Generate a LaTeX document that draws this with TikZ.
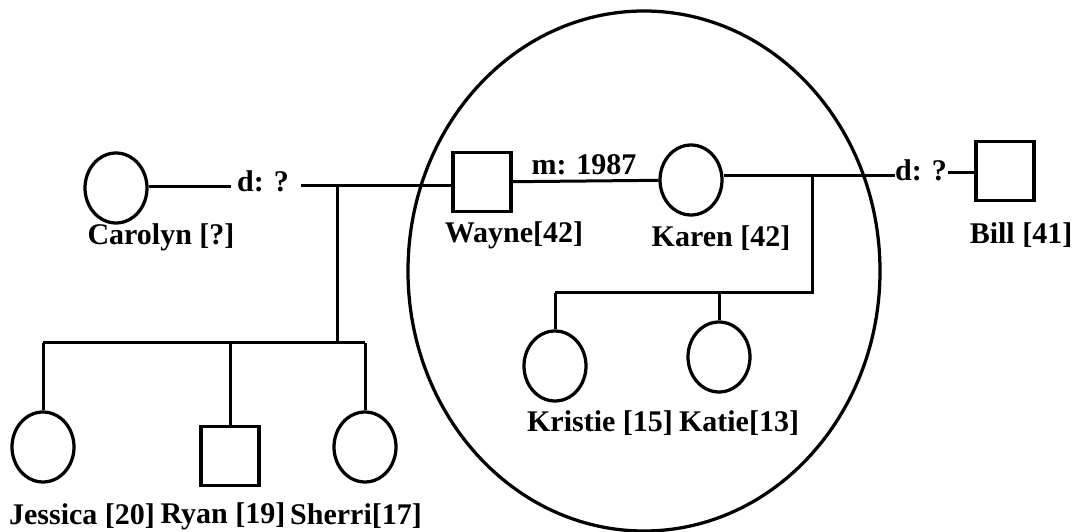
\documentclass[tikz,border=0pt]{standalone}
\usepackage{fontspec}
\setmainfont{Liberation Serif}
\usetikzlibrary{shapes.geometric}

\begin{document}
\begin{tikzpicture}[x=0.4pt, y=-0.4pt, line width=1.2pt,
        femmina/.style={ellipse, draw, line width=1.3pt, inner sep=0pt, minimum width=24.8pt, minimum height=28pt},
        maschio/.style={rectangle, draw, line width=1.3pt, inner sep=0pt, minimum width=23.2pt, minimum height=23.6pt},
        nome/.style={font=\fontsize{12}{14}\selectfont\bfseries, inner sep=0pt}]
        \useasboundingbox (0,0) rectangle (1081,532);

        % Nucleo familiare evidenziato
        \draw[line width=1.3pt] (644,271) ellipse (94.4pt and 104pt);

        % Genitori
        \node[femmina] (Carolyn) at (116,188) {};
        \node[maschio] (Wayne) at (482,182) {};
        \node[femmina] (Karen) at (691,180) {};
        \node[maschio] (Bill) at (1005,171) {};

        % Figli
        \node[femmina] (Jessica) at (43,447) {};
        \node[maschio] (Ryan) at (230,456) {};
        \node[femmina] (Sherri) at (365,447) {};
        \node[femmina] (Kristie) at (555,366) {};
        \node[femmina] (Katie) at (719,357) {};

        % Nomi ed eta'
        \node[nome] (nCarolyn) at (161,237) {Carolyn [?]};
        \node[nome] (nWayne) at (514,235) {Wayne[42]};
        \node[nome] (nKaren) at (721,238) {Karen [42]};
        \node[nome] (nBill) at (1021,235) {Bill [41]};
        \node[nome] (nJessica) at (82,516) {Jessica [20]};
        \node[nome] (nRyan) at (223,516) {Ryan [19]};
        \node[nome] (nSherri) at (356,516) {Sherri[17]};
        \node[nome] (nKristie) at (600,423) {Kristie [15]};
        \node[nome] (nKatie) at (739,423) {Katie[13]};

        % Unioni
        \node[nome] (dSx) at (263,181) {d: ?};
        \node[nome] (mWK) at (584,165) {m: 1987};
        \node[nome] (dDx) at (921,170) {d: ?};

        \coordinate (cSx) at (231,187);
        \coordinate (wSx) at (301,186);
        \coordinate (kDx) at (895,176);
        \coordinate (bSx) at (948,173);
        \draw (Carolyn.east |- cSx) -- (cSx);
        \draw (wSx) -- (wSx -| Wayne.west);
        \draw (Wayne) -- (Karen);
        \draw (Karen.east |- kDx) -- (kDx);
        \draw (bSx) -- (bSx -| Bill.west);

        % Figli di Wayne e Carolyn
        \coordinate (fA) at (337,186);
        \coordinate (fB) at (337,343);
        \draw (fA) -- (fB);
        \draw (Jessica.north |- fB) -- (Sherri.north |- fB);
        \foreach \f in {Jessica, Ryan, Sherri}
            \draw (\f.north |- fB) -- (\f.north);

        % Figlie di Wayne e Karen
        \coordinate (fC) at (812,176);
        \coordinate (fD) at (812,293);
        \draw (fC) -- (fD) -- (Kristie.north |- fD);
        \foreach \f in {Kristie, Katie}
            \draw (\f.north |- fD) -- (\f.north);
    \end{tikzpicture}
\end{document}
